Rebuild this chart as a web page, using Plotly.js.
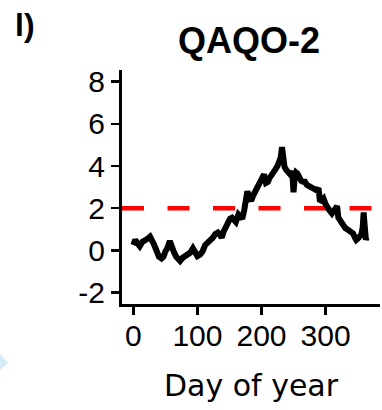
<!DOCTYPE html>
<html>
<head>
<meta charset="utf-8">
<script src="https://cdn.plot.ly/plotly-3.0.1.min.js"></script>
<style>html,body{margin:0;padding:0;background:#fff;}#chart{width:382px;height:410px;}</style>
</head>
<body>
<div id="chart"></div>
<script>
const panelLabel = "l)";
const chartTitle = "QAQO-2";
const xAxisTitle = "Day of year";
const xTickVals = [0, 100, 200, 300];
const yTickVals = [-2, 0, 2, 4, 6, 8];
const threshold = 2;

const days = [0,3,6,10,14,18,22,26,29,32,36,40,44,47,50,53,57,60,63,67,70,73,77,81,85,89,93,97,100,104,108,112,116,120,124,128,132,135,138,141,144,148,151,154,157,160,164,167,170,173,176,178,181,184,187,190,193,196,199,202,204,207,210,213,216,219,222,225,228,230,232,234,236,239,242,245,248,250,252,254,256,259,262,265,268,271,274,277,280,283,286,289,291,294,297,300,303,306,310,313,316,318,320,322,325,328,331,334,337,340,343,346,348,350,353,356,358,359.5,361,363,364];
const values = [0.25,0.5,0.35,0.2,0.4,0.45,0.55,0.65,0.5,0.3,0.0,-0.3,-0.38,-0.3,-0.05,0.1,0.45,0.15,-0.05,-0.3,-0.45,-0.5,-0.35,-0.25,-0.2,-0.1,0.1,-0.2,-0.27,-0.2,-0.05,0.25,0.35,0.45,0.6,0.78,0.85,0.75,0.6,0.9,1.1,1.35,1.5,1.55,1.4,1.35,1.7,1.6,1.5,1.9,2.5,2.8,2.5,2.35,2.6,2.8,3.0,3.15,3.3,3.45,3.6,3.2,3.25,3.45,3.55,3.7,3.85,4.0,4.25,4.4,4.9,4.1,3.95,3.8,3.7,3.6,3.75,2.75,3.5,3.7,3.65,3.4,3.3,3.25,3.25,3.1,3.05,3.0,2.95,2.9,2.85,2.95,2.4,2.35,2.45,2.2,2.0,1.9,1.75,1.85,2.05,2.1,1.55,1.45,1.3,1.1,1.05,1.0,0.95,0.9,0.8,0.6,0.5,0.55,0.7,0.75,1.1,1.8,1.2,0.5,0.6];

const data = [{
  type: 'scatter', mode: 'lines', x: days, y: values,
  line: {color: '#000000', width: 6},
  hoverinfo: 'skip', showlegend: false
}];

const layout = {
  width: 382, height: 410,
  margin: {l: 122, r: 2, t: 70, b: 106, pad: 0},
  paper_bgcolor: '#ffffff', plot_bgcolor: '#ffffff',
  font: {family: 'Liberation Sans, Arial, sans-serif', color: '#000000'},
  showlegend: false,
  title: {text: '<b>' + chartTitle + '</b>', x: 249/382, xanchor: 'center', y: 1 - 40/410, yanchor: 'middle', font: {size: 36, family: 'Liberation Sans, Arial, sans-serif', color: '#000'}},
  xaxis: {
    range: [-17.7, 385], tickvals: xTickVals, ticktext: xTickVals.map(String),
    showgrid: false, zeroline: false, showline: true, linecolor: '#000', linewidth: 3,
    ticks: 'outside', ticklen: 8, tickwidth: 2.5, tickcolor: '#000',
    tickfont: {size: 30, family: 'Liberation Sans, Arial, sans-serif'},
    ticklabelstandoff: -5,
    title: {text: xAxisTitle, standoff: 24, font: {size: 30, family: 'DejaVu Sans, sans-serif'}},
    fixedrange: true
  },
  yaxis: {
    range: [-2.54, 8.55], tickvals: yTickVals, ticktext: yTickVals.map(String),
    showgrid: false, zeroline: false, showline: true, linecolor: '#000', linewidth: 3,
    ticks: 'outside', ticklen: 8, tickwidth: 2.5, tickcolor: '#000',
    tickfont: {size: 30, family: 'Liberation Sans, Arial, sans-serif'},
    fixedrange: true
  },
  shapes: [
    {type: 'line', xref: 'paper', yref: 'y', x0: 0, x1: 0.973, y0: threshold, y1: threshold,
     line: {color: '#ff0000', width: 4.5, dash: '22px,23.5px'}, layer: 'below'},
    {type: 'path', xref: 'paper', yref: 'paper', path: '', line: {width: 0}}
  ],
  annotations: [
    {text: '<b>' + panelLabel + '</b>', xref: 'paper', yref: 'paper',
     x: -97/258, y: 1 + (70 - 25)/234, xanchor: 'center', yanchor: 'middle', showarrow: false,
     font: {size: 32, family: 'Liberation Sans, Arial, sans-serif', color: '#000'}}
  ]
};
// light blue fragment at lower-left edge (paper coordinates)
const pw = 258, ph = 234;
const px = v => (v - 122) / pw, py = v => (304 - v) / ph;
layout.shapes[1] = {type: 'path', xref: 'paper', yref: 'paper',
  path: `M ${px(0)} ${py(354)} L ${px(8)} ${py(363)} L ${px(0)} ${py(370)} Z`,
  fillcolor: '#d4ecfa', line: {width: 0}};

Plotly.newPlot('chart', data, layout, {displayModeBar: false, staticPlot: true});
</script>
</body>
</html>
